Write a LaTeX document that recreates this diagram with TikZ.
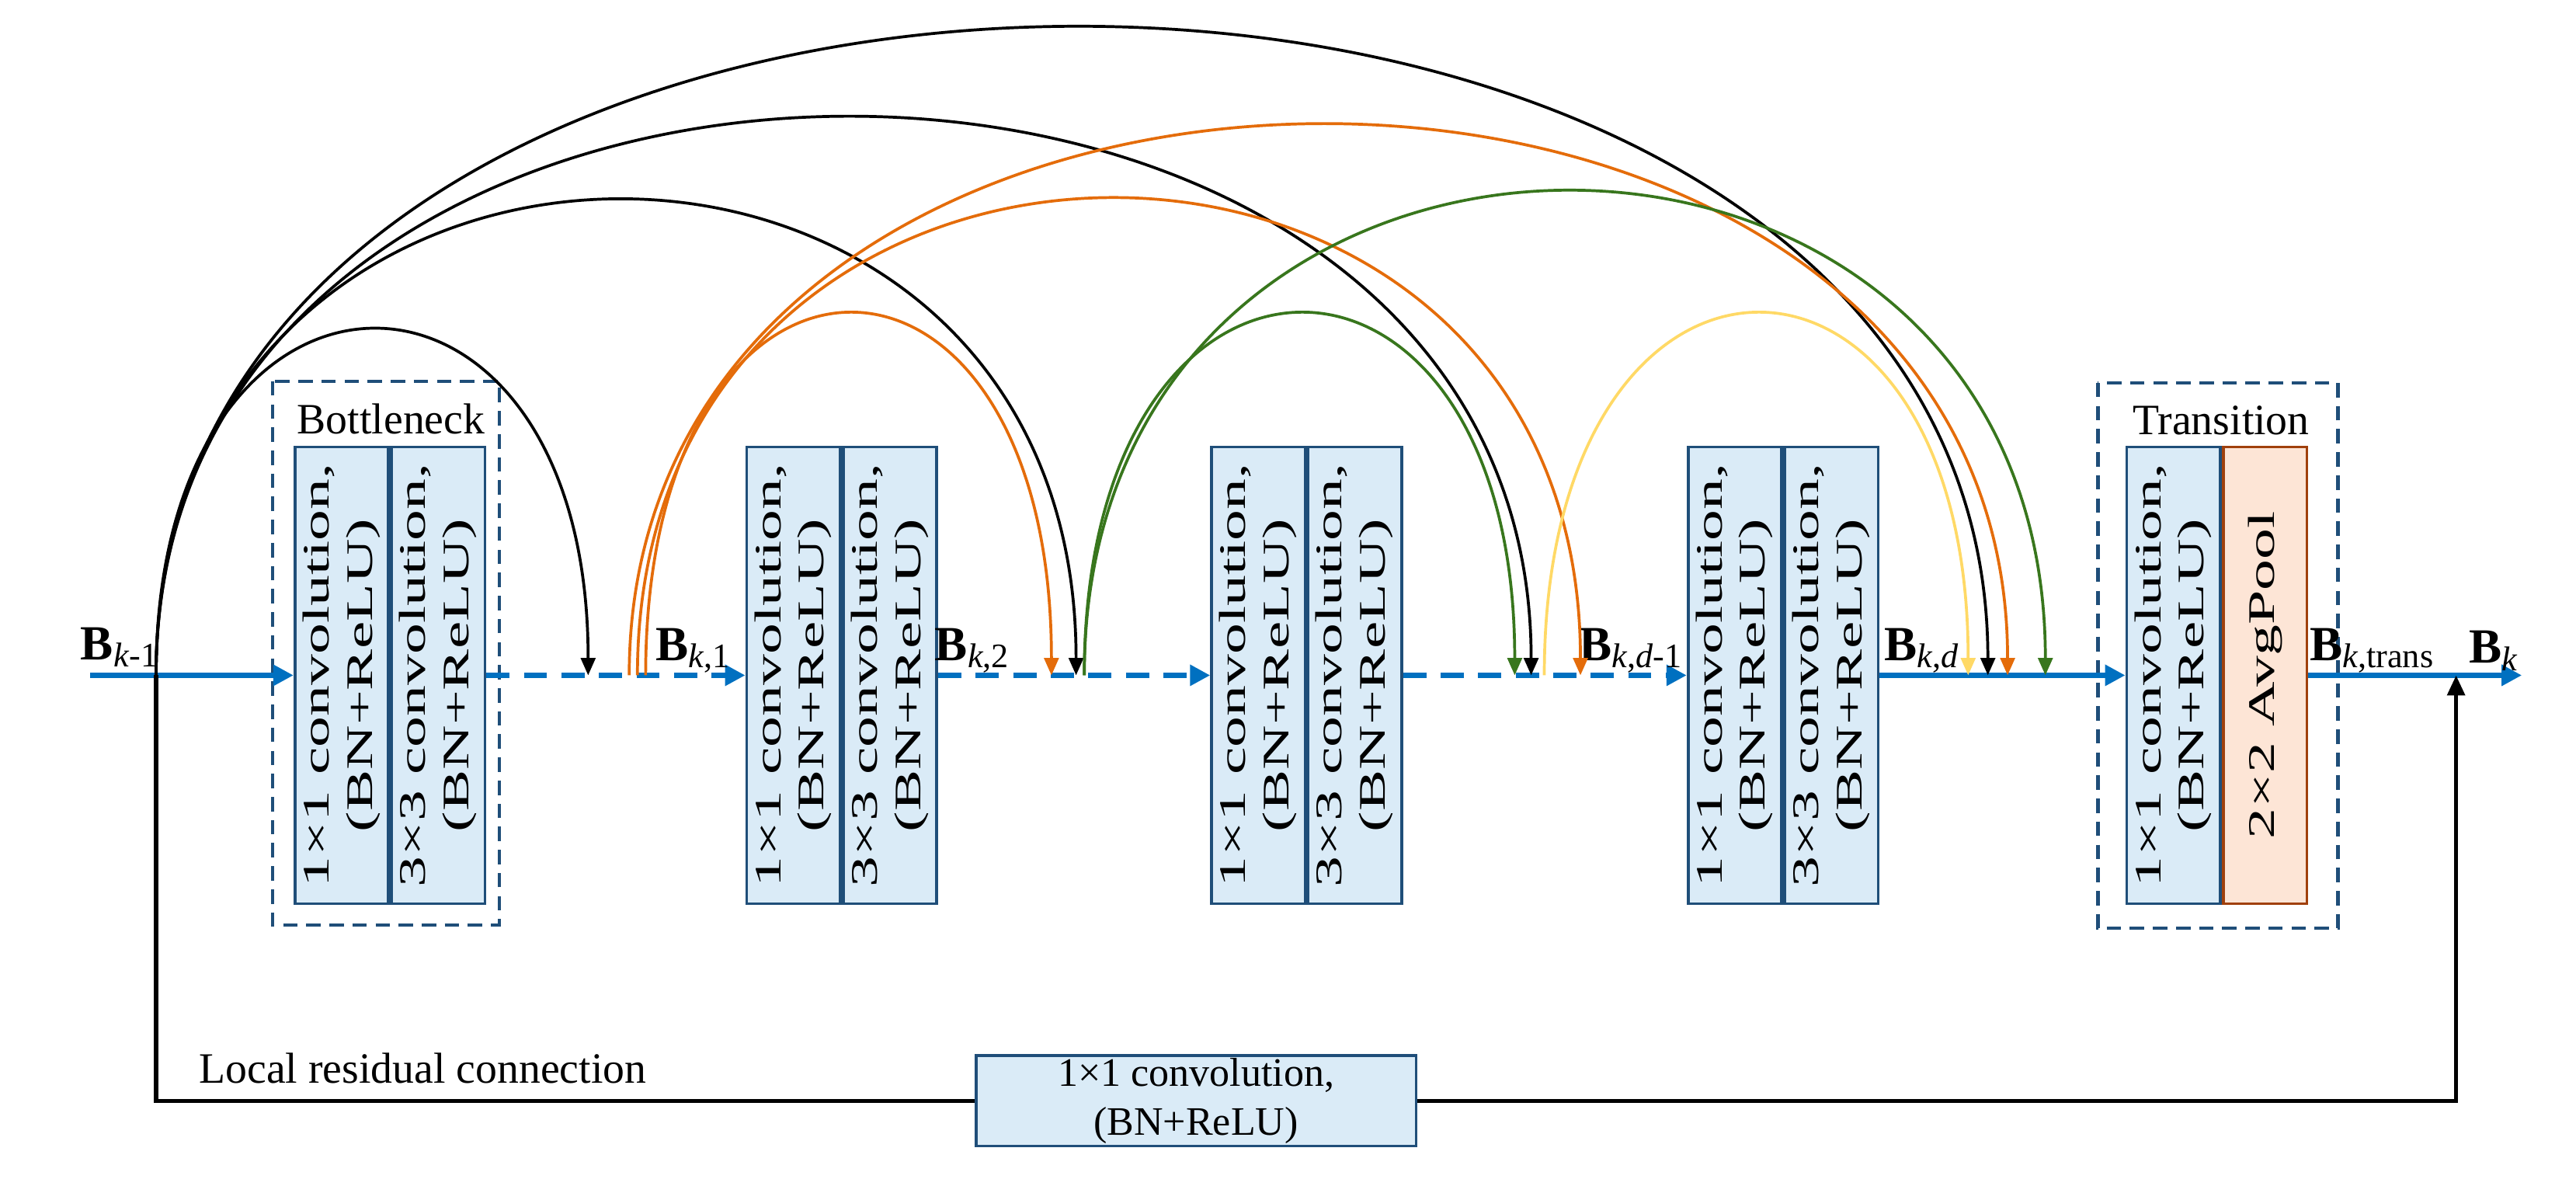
\documentclass[tikz,border=0pt]{standalone}
\usepackage{fontspec}
\setmainfont{Liberation Serif}
\usetikzlibrary{arrows.meta}
\definecolor{lineblue}{RGB}{0,112,192}
\definecolor{cellfill}{RGB}{218,235,247}
\definecolor{celldraw}{RGB}{31,78,121}
\definecolor{poolfill}{RGB}{253,229,214}
\definecolor{pooldraw}{RGB}{160,64,12}
\definecolor{arcorange}{RGB}{228,108,10}
\definecolor{arcgreen}{RGB}{56,118,29}
\definecolor{arcyellow}{RGB}{255,217,102}
\newcommand{\celltext}[2]{\scalebox{1.65}[1]{\begin{tabular}{c}#1\\#2\end{tabular}}}
\newcommand{\blab}[1]{\textbf{B}\textsubscript{#1}}
\tikzset{
  cell/.style={draw=celldraw, line width=1pt, fill=cellfill, minimum width=1.14cm,
    minimum height=5.56cm, inner sep=0pt},
  celltxt/.style={rotate=90, font=\fontsize{13}{15}\selectfont, inner sep=0pt},
  group/.style={draw=celldraw, line width=1.2pt, dash pattern=on 5pt off 3pt},
  flow/.style={lineblue, line width=2pt, -{Triangle[length=7pt,width=7pt]}},
  dflow/.style={flow, dash pattern=on 8pt off 5pt},
  skip/.style={#1, line width=1pt, -{Triangle[length=6pt,width=5pt]}},
  lab/.style={font=\fontsize{15}{17}\selectfont},
  blabel/.style={font=\fontsize{17}{19}\selectfont, inner sep=1pt}
}
\begin{document}
\begin{tikzpicture}[x=0.02cm, y=-0.02cm]
    \useasboundingbox (0,0) rectangle (1568,730);

    % Dashed groups
    \draw[group] (166,232) rectangle (304,563);
    \draw[group] (1277,233) rectangle (1423,565);
    \node[lab] (bottle) at (238,255) {Bottleneck};
    \node[lab] (trans) at (1352,256) {Transition};

    % Convolution cells
    \foreach \n/\x in {1/208, 2/483, 3/766, 4/1056} {
      \node[cell] (c\n a) at (\x,411) {};
      \node[cell, anchor=west] (c\n b) at (c\n a.east) {};
      \node[celltxt] at (c\n a) {\celltext{1×1 convolution,}{(BN+ReLU)}};
      \node[celltxt] at (c\n b) {\celltext{3×3 convolution,}{(BN+ReLU)}};
    }
    \node[cell] (c5a) at (1323,411) {};
    \node[cell, anchor=west, fill=poolfill, draw=pooldraw, minimum width=1.02cm] (c5b) at (c5a.east) {};
    \node[celltxt] at (c5a) {\celltext{1×1 convolution,}{(BN+ReLU)}};
    \node[celltxt] at (c5b) {\scalebox{1.65}[1]{2×2 AvgPool}};

    % Main path
    \coordinate (in) at (55,411);
    \coordinate (out) at (1535,411);
    \draw[flow] (in) -- (c1a.west);
    \draw[dflow] (c1b.east) -- (c2a.west);
    \draw[dflow] (c2b.east) -- (c3a.west);
    \draw[dflow] (c3b.east) -- (c4a.west);
    \draw[flow] (c4b.east) -- (c5a.west);
    \draw[flow] (c5b.east) -- (out);

    % Labels on the path
    \node[blabel] (lb0) at (73,394) {\blab{\textit{k}-1}};
    \node[blabel] (lb1) at (422,396) {\blab{\textit{k},1}};
    \node[blabel] (lb2) at (592,396) {\blab{\textit{k},2}};
    \node[blabel] (lb3) at (993,396) {\blab{\textit{k},\textit{d}-1}};
    \node[blabel] (lb4) at (1170,396) {\blab{\textit{k},\textit{d}}};
    \node[blabel] (lb5) at (1444,396) {\blab{\textit{k},trans}};
    \node[blabel] (lb6) at (1518,396) {\blab{\textit{k}}};

    % Dense connections
    \coordinate (s0) at (95,411);
    \foreach \nm/\x in {e1/358, o1/383, o2/388, o3/393, e2o/640, e2b/655, g1/660,
                        ed1g/922, ed1b/932, y1/940, ed1o/962,
                        edy/1198, edb/1210, edo/1222, edg/1245}
      \coordinate (\nm) at (\x,411);
    \draw[skip=black] (s0) .. controls +(0,-280) and +(0,-280) .. (e1);
    \draw[skip=black] (s0) .. controls +(0,-385) and +(0,-385) .. (e2b);
    \draw[skip=black] (s0) .. controls +(0,-452) and +(0,-452) .. (ed1b);
    \draw[skip=black] (s0) .. controls +(0,-525) and +(0,-525) .. (edb);
    \draw[skip=arcorange] (o3) .. controls +(0,-293) and +(0,-293) .. (e2o);
    \draw[skip=arcorange] (o2) .. controls +(0,-386) and +(0,-386) .. (ed1o);
    \draw[skip=arcorange] (o1) .. controls +(0,-446) and +(0,-446) .. (edo);
    \draw[skip=arcgreen] (g1) .. controls +(0,-293) and +(0,-293) .. (ed1g);
    \draw[skip=arcgreen] (g1) .. controls +(0,-392) and +(0,-392) .. (edg);
    \draw[skip=arcyellow] (y1) .. controls +(0,-293) and +(0,-293) .. (edy);

    % Local residual connection
    \node[cell, minimum width=5.36cm, minimum height=1.1cm, align=center,
          font=\fontsize{14}{17}\selectfont] (res) at (728,670)
          {1×1 convolution,\\(BN+ReLU)};
    \node[lab, anchor=west] (reslab) at (115,650) {Local residual connection};
    \coordinate (bk) at (1495,411);
    \draw[line width=1.5pt] (s0) |- (res.west);
    \draw[line width=1.5pt, -{Triangle[length=7pt,width=6pt]}] (res.east) -| (bk);
\end{tikzpicture}
\end{document}
